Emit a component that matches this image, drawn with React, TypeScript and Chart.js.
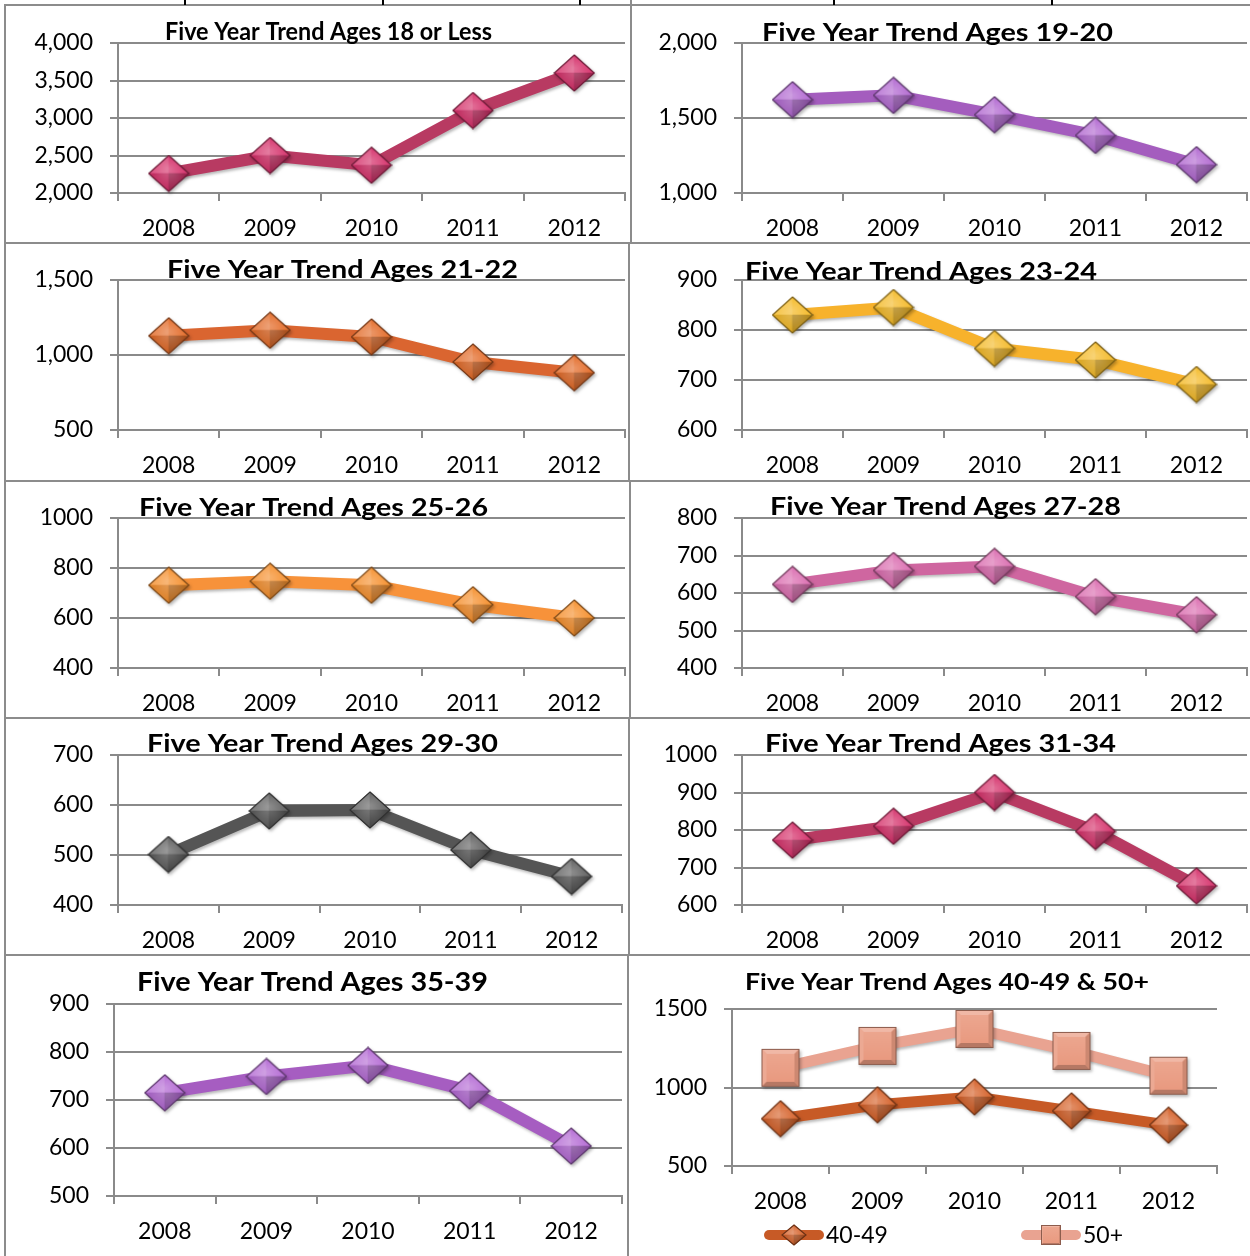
import React, { useEffect, useRef } from "react";
import { Chart, registerables } from "chart.js";

Chart.register(...registerables);

// ---------------- data ----------------
const YEARS = ["2008", "2009", "2010", "2011", "2012"];
const AGES_18_OR_LESS = [2260, 2500, 2370, 3100, 3600];
const AGES_19_20 = [1622, 1651, 1522, 1384, 1189];
const AGES_21_22 = [1128, 1165, 1120, 953, 882];
const AGES_23_24 = [830, 845, 763, 740, 691];
const AGES_25_26 = [731, 747, 731, 653, 600];
const AGES_27_28 = [623, 660, 671, 590, 542];
const AGES_29_30 = [501, 588, 590, 510, 457];
const AGES_31_34 = [773, 810, 900, 796, 651];
const AGES_35_39 = [715, 749, 772, 719, 604];
const AGES_40_49 = [801, 890, 940, 851, 760];
const AGES_50_PLUS = [1125, 1265, 1373, 1233, 1075];
const SERIES_NAMES_40_50 = ["40-49", "50+"];

const TITLES = [
  "Five Year Trend Ages 18 or Less",
  "Five Year Trend Ages 19-20",
  "Five Year Trend Ages 21-22",
  "Five Year Trend Ages 23-24",
  "Five Year Trend Ages 25-26",
  "Five Year Trend Ages 27-28",
  "Five Year Trend Ages 29-30",
  "Five Year Trend Ages 31-34",
  "Five Year Trend Ages 35-39",
  "Five Year Trend Ages 40-49 & 50+",
];

// ---------------- styling / layout ----------------
const GRID = "#8a8a8a";
const BORDER = "#8c8c8c";
const FONT = "Lato";
const LINE_W = 12;
const EXTRA_W = 40; // canvas extends to the right so the plot keeps its width

type Series = {
  name: string;
  data: number[];
  line: string;
  marker: string;
  shape: "diamond" | "square";
  mw: number;
  mh: number;
  lw: number;
};

type LegendPos = { x0: number; x1: number; tx: number };

type Spec = {
  title: string;
  tL: number;
  tR: number;
  tB: number;
  tSize: number;
  cx: number;
  cy: number;
  cw: number;
  ch: number;
  pL: number;
  pR: number;
  pT: number;
  pB: number;
  min: number;
  max: number;
  step: number;
  comma: boolean;
  series: Series[];
  legend?: { cy: number; items: LegendPos[] };
};

const COL0 = { cx: 0, cw: 629 };
const COL1 = { cx: 629, cw: 621 };
const ROWS = [
  { cy: 0, ch: 243 },
  { cy: 243, ch: 238 },
  { cy: 481, ch: 237 },
  { cy: 718, ch: 237 },
  { cy: 955, ch: 301 },
];

const dia = (name: string, data: number[], line: string, marker: string): Series => ({
  name,
  data,
  line,
  marker,
  shape: "diamond",
  mw: 40,
  mh: 36,
  lw: LINE_W,
});

const SPECS: Spec[] = [
  {
    title: TITLES[0], tL: 165, tR: 492, tB: 40, tSize: 24,
    ...COL0, ...ROWS[0], pL: 118, pR: 625, pT: 43, pB: 193,
    min: 2000, max: 4000, step: 500, comma: true,
    series: [dia("18 or Less", AGES_18_OR_LESS, "#B83A62", "#D6336C")],
  },
  {
    title: TITLES[1], tL: 762, tR: 1113, tB: 41, tSize: 24,
    ...COL1, ...ROWS[0], pL: 742, pR: 1247, pT: 43, pB: 193,
    min: 1000, max: 2000, step: 500, comma: true,
    series: [dia("19-20", AGES_19_20, "#A45DBE", "#B269D1")],
  },
  {
    title: TITLES[2], tL: 167, tR: 518, tB: 278, tSize: 24,
    ...COL0, ...ROWS[1], pL: 118, pR: 625, pT: 280, pB: 430,
    min: 500, max: 1500, step: 500, comma: true,
    series: [dia("21-22", AGES_21_22, "#DA6530", "#E36C2A")],
  },
  {
    title: TITLES[3], tL: 745, tR: 1097, tB: 280, tSize: 24,
    ...COL1, ...ROWS[1], pL: 742, pR: 1247, pT: 280, pB: 430,
    min: 600, max: 900, step: 100, comma: false,
    series: [dia("23-24", AGES_23_24, "#F7B22C", "#F4BB2A")],
  },
  {
    title: TITLES[4], tL: 139, tR: 488, tB: 516, tSize: 24,
    ...COL0, ...ROWS[2], pL: 118, pR: 625, pT: 518, pB: 668,
    min: 400, max: 1000, step: 200, comma: false,
    series: [dia("25-26", AGES_25_26, "#F7923A", "#F5902F")],
  },
  {
    title: TITLES[5], tL: 770, tR: 1121, tB: 515, tSize: 24,
    ...COL1, ...ROWS[2], pL: 742, pR: 1247, pT: 518, pB: 668,
    min: 400, max: 800, step: 100, comma: false,
    series: [dia("27-28", AGES_27_28, "#CF66A0", "#DB6DB0")],
  },
  {
    title: TITLES[6], tL: 147, tR: 498, tB: 752, tSize: 24,
    ...COL0, ...ROWS[3], pL: 118, pR: 622, pT: 755, pB: 905,
    min: 400, max: 700, step: 100, comma: false,
    series: [dia("29-30", AGES_29_30, "#555555", "#606060")],
  },
  {
    title: TITLES[7], tL: 765, tR: 1116, tB: 752, tSize: 24,
    ...COL1, ...ROWS[3], pL: 742, pR: 1247, pT: 755, pB: 905,
    min: 600, max: 1000, step: 100, comma: false,
    series: [dia("31-34", AGES_31_34, "#B83A62", "#D6336C")],
  },
  {
    title: TITLES[8], tL: 137, tR: 488, tB: 991, tSize: 26,
    ...COL0, ...ROWS[4], pL: 114, pR: 622, pT: 1004, pB: 1196,
    min: 500, max: 900, step: 100, comma: false,
    series: [dia("35-39", AGES_35_39, "#A65DC1", "#B46BD4")],
  },
  {
    title: TITLES[9], tL: 745, tR: 1149, tB: 990, tSize: 22,
    ...COL1, ...ROWS[4], pL: 732, pR: 1217, pT: 1009, pB: 1166,
    min: 500, max: 1500, step: 500, comma: false,
    series: [
      { name: SERIES_NAMES_40_50[0], data: AGES_40_49, line: "#C75A26", marker: "#D5622A", shape: "diamond", mw: 38, mh: 36, lw: 11 },
      { name: SERIES_NAMES_40_50[1], data: AGES_50_PLUS, line: "#E9A391", marker: "#E99A80", shape: "square", mw: 38, mh: 38, lw: 11 },
    ],
    legend: {
      cy: 1235,
      items: [
        { x0: 764, x1: 824, tx: 826 },
        { x0: 1021, x1: 1081, tx: 1083 },
      ],
    },
  },
];

// ---------------- marker images ----------------
function hexToRgb(h: string): number[] {
  const n = parseInt(h.slice(1), 16);
  return [(n >> 16) & 255, (n >> 8) & 255, n & 255];
}
function mix(h: string, toWhite: boolean, amt: number): string {
  const a = hexToRgb(h);
  const t = toWhite ? 255 : 0;
  return `rgb(${a.map((v) => Math.round(v + (t - v) * amt)).join(",")})`;
}

function makeDiamond(base: string, w: number, h: number): HTMLCanvasElement {
  const c = document.createElement("canvas");
  c.width = w + 2;
  c.height = h + 2;
  const g = c.getContext("2d")!;
  const cx = (w + 2) / 2;
  const cy = (h + 2) / 2;
  const T: [number, number] = [cx, 1];
  const R: [number, number] = [w + 1, cy];
  const B: [number, number] = [cx, h + 1];
  const L: [number, number] = [1, cy];
  const C: [number, number] = [cx, cy];
  const tri = (p: number[], q: number[], r: number[], col: string) => {
    g.beginPath();
    g.moveTo(p[0], p[1]);
    g.lineTo(q[0], q[1]);
    g.lineTo(r[0], r[1]);
    g.closePath();
    g.fillStyle = col;
    g.fill();
    g.strokeStyle = col;
    g.lineWidth = 0.6;
    g.stroke();
  };
  tri(T, C, L, mix(base, true, 0.18));
  tri(T, R, C, mix(base, true, 0.06));
  tri(L, C, B, mix(base, false, 0.1));
  tri(C, R, B, mix(base, false, 0.26));
  const rg = g.createRadialGradient(cx, cy - h * 0.12, 1, cx, cy, w * 0.4);
  rg.addColorStop(0, "rgba(255,255,255,0.22)");
  rg.addColorStop(1, "rgba(255,255,255,0)");
  g.beginPath();
  g.moveTo(T[0], T[1]);
  g.lineTo(R[0], R[1]);
  g.lineTo(B[0], B[1]);
  g.lineTo(L[0], L[1]);
  g.closePath();
  g.fillStyle = rg;
  g.fill();
  g.strokeStyle = mix(base, false, 0.5);
  g.lineWidth = 1.2;
  g.stroke();
  return c;
}

function makeSquare(base: string, s: number): HTMLCanvasElement {
  const c = document.createElement("canvas");
  c.width = s + 2;
  c.height = s + 2;
  const g = c.getContext("2d")!;
  const x0 = 1, y0 = 1, x1 = s + 1, y1 = s + 1;
  const b = Math.max(2, Math.round(s * 0.12));
  g.fillStyle = base;
  g.fillRect(x0, y0, s, s);
  const poly = (pts: number[][], col: string) => {
    g.beginPath();
    g.moveTo(pts[0][0], pts[0][1]);
    for (let i = 1; i < pts.length; i++) g.lineTo(pts[i][0], pts[i][1]);
    g.closePath();
    g.fillStyle = col;
    g.fill();
  };
  poly([[x0, y0], [x1, y0], [x1 - b, y0 + b], [x0 + b, y0 + b]], mix(base, true, 0.3));
  poly([[x0, y0], [x0 + b, y0 + b], [x0 + b, y1 - b], [x0, y1]], mix(base, true, 0.15));
  poly([[x0, y1], [x0 + b, y1 - b], [x1 - b, y1 - b], [x1, y1]], mix(base, false, 0.22));
  poly([[x1, y0], [x1, y1], [x1 - b, y1 - b], [x1 - b, y0 + b]], mix(base, false, 0.12));
  const lg = g.createLinearGradient(0, y0 + b, 0, y1 - b);
  lg.addColorStop(0, mix(base, true, 0.12));
  lg.addColorStop(1, base);
  g.fillStyle = lg;
  g.fillRect(x0 + b, y0 + b, s - 2 * b, s - 2 * b);
  g.strokeStyle = mix(base, false, 0.4);
  g.lineWidth = 1;
  g.strokeRect(x0 + 0.5, y0 + 0.5, s - 1, s - 1);
  return c;
}

function makeMarker(s: Series, small: boolean): HTMLCanvasElement {
  if (s.shape === "square") return makeSquare(s.marker, small ? 20 : s.mw);
  return small ? makeDiamond(s.marker, 24, 20) : makeDiamond(s.marker, s.mw, s.mh);
}

// ---------------- chart cell ----------------
function ChartCell({ spec }: { spec: Spec }) {
  const ref = useRef<HTMLCanvasElement>(null);
  const canvasW = spec.cw + EXTRA_W;

  useEffect(() => {
    const canvas = ref.current;
    if (!canvas) return;
    const markers = spec.series.map((s) => makeMarker(s, false));
    const legendMarkers = spec.series.map((s) => makeMarker(s, true));

    const overlay = {
      id: "overlay",
      beforeDatasetsDraw(chart: any) {
        const c = chart.ctx;
        c.save();
        c.shadowColor = "rgba(0,0,0,0.28)";
        c.shadowBlur = 3;
        c.shadowOffsetX = 1.5;
        c.shadowOffsetY = 2;
      },
      afterDatasetsDraw(chart: any) {
        chart.ctx.restore();
      },
      afterDraw(chart: any) {
        const c = chart.ctx as CanvasRenderingContext2D;
        c.save();
        c.font = `bold ${spec.tSize}px ${FONT}`;
        c.fillStyle = "#000";
        c.textAlign = "left";
        c.textBaseline = "alphabetic";
        const w = c.measureText(spec.title).width;
        const target = spec.tR - spec.tL;
        c.translate(spec.tL - spec.cx, spec.tB - spec.cy);
        c.scale(target / w, 1);
        c.fillText(spec.title, 0, 0);
        c.restore();
        if (spec.legend) {
          const ly = spec.legend.cy - spec.cy;
          spec.legend.items.forEach((it, i) => {
            const s = spec.series[i];
            c.save();
            c.strokeStyle = s.line;
            c.lineWidth = 10;
            c.lineCap = "round";
            c.beginPath();
            c.moveTo(it.x0 + 5 - spec.cx, ly);
            c.lineTo(it.x1 - 5 - spec.cx, ly);
            c.stroke();
            const m = legendMarkers[i];
            const mx = (it.x0 + it.x1) / 2 - spec.cx;
            c.drawImage(m, mx - m.width / 2, ly - m.height / 2);
            c.font = `23px ${FONT}`;
            c.fillStyle = "#000";
            c.textAlign = "left";
            c.textBaseline = "middle";
            c.fillText(s.name, it.tx - spec.cx, ly + 1);
            c.restore();
          });
        }
      },
    };

    const tickFont = { family: FONT, size: 23 };

    const chart = new Chart(canvas, {
      type: "line",
      data: {
        labels: YEARS,
        datasets: spec.series.map((s, i) => ({
          label: s.name,
          data: s.data,
          borderColor: s.line,
          backgroundColor: s.line,
          borderWidth: s.lw,
          tension: 0,
          fill: false,
          clip: false,
          borderJoinStyle: "round",
          pointStyle: markers[i],
          pointRadius: 18,
          pointHoverRadius: 18,
        })) as any,
      },
      options: {
        responsive: false,
        maintainAspectRatio: false,
        animation: false,
        devicePixelRatio: 1,
        events: [],
        layout: {
          padding: {
            left: 0,
            right: spec.cx + canvasW - spec.pR,
            top: spec.pT - spec.cy,
            bottom: 0,
          },
        },
        plugins: {
          legend: { display: false },
          title: { display: false },
          tooltip: { enabled: false },
        },
        scales: {
          x: {
            type: "category",
            offset: true,
            grid: {
              offset: true,
              drawOnChartArea: false,
              drawTicks: true,
              tickLength: 8,
              color: GRID,
              lineWidth: 2,
            },
            border: { display: true, color: GRID, width: 2 },
            ticks: {
              color: "#000",
              font: tickFont,
              padding: 14,
              maxRotation: 0,
              autoSkip: false,
            },
            afterFit: (s: any) => {
              s.height = spec.cy + spec.ch - spec.pB;
            },
          },
          y: {
            type: "linear",
            min: spec.min,
            max: spec.max,
            grid: { color: GRID, lineWidth: 2, drawTicks: true, tickLength: 8 },
            border: { display: true, color: GRID, width: 2 },
            ticks: {
              stepSize: spec.step,
              color: "#000",
              font: tickFont,
              padding: 17,
              callback: (v: any) =>
                spec.comma ? Number(v).toLocaleString("en-US") : String(v),
            },
            afterFit: (s: any) => {
              s.width = spec.pL - spec.cx;
            },
          },
        },
      } as any,
      plugins: [overlay as any],
    });
    return () => chart.destroy();
  }, [spec]);

  return (
    <canvas
      ref={ref}
      width={canvasW}
      height={spec.ch}
      style={{
        position: "absolute",
        left: spec.cx,
        top: spec.cy,
        width: canvasW,
        height: spec.ch,
      }}
    />
  );
}

// ---------------- table borders ----------------
const H_LINES = [
  { y: 5, x0: 4, x1: 1250 },
  { y: 243, x0: 4, x1: 1250 },
  { y: 481, x0: 4, x1: 1250 },
  { y: 718, x0: 4, x1: 1250 },
  { y: 955, x0: 4, x1: 1250 },
];
const V_LINES = [
  { x: 5, y0: 5, y1: 1256 },
  { x: 631, y0: 0, y1: 243 },
  { x: 629, y0: 243, y1: 481 },
  { x: 630, y0: 481, y1: 718 },
  { x: 629, y0: 718, y1: 955 },
  { x: 628, y0: 955, y1: 1256 },
];
const TOP_TICKS = [185, 383, 580, 834, 1052];

export default function App() {
  return (
    <div
      style={{
        position: "absolute",
        left: 0,
        top: 0,
        width: 1250,
        height: 1256,
        background: "#fff",
        overflow: "hidden",
      }}
    >
      {SPECS.map((s, i) => (
        <ChartCell key={i} spec={s} />
      ))}
      {H_LINES.map((l, i) => (
        <div
          key={"h" + i}
          style={{
            position: "absolute",
            left: l.x0,
            top: l.y - 1,
            width: l.x1 - l.x0,
            height: 2,
            background: BORDER,
          }}
        />
      ))}
      {V_LINES.map((l, i) => (
        <div
          key={"v" + i}
          style={{
            position: "absolute",
            left: l.x - 1,
            top: l.y0,
            width: 2,
            height: l.y1 - l.y0,
            background: BORDER,
          }}
        />
      ))}
      {TOP_TICKS.map((x, i) => (
        <div
          key={"t" + i}
          style={{
            position: "absolute",
            left: x - 1,
            top: 0,
            width: 2,
            height: 5,
            background: "#000",
          }}
        />
      ))}
    </div>
  );
}
